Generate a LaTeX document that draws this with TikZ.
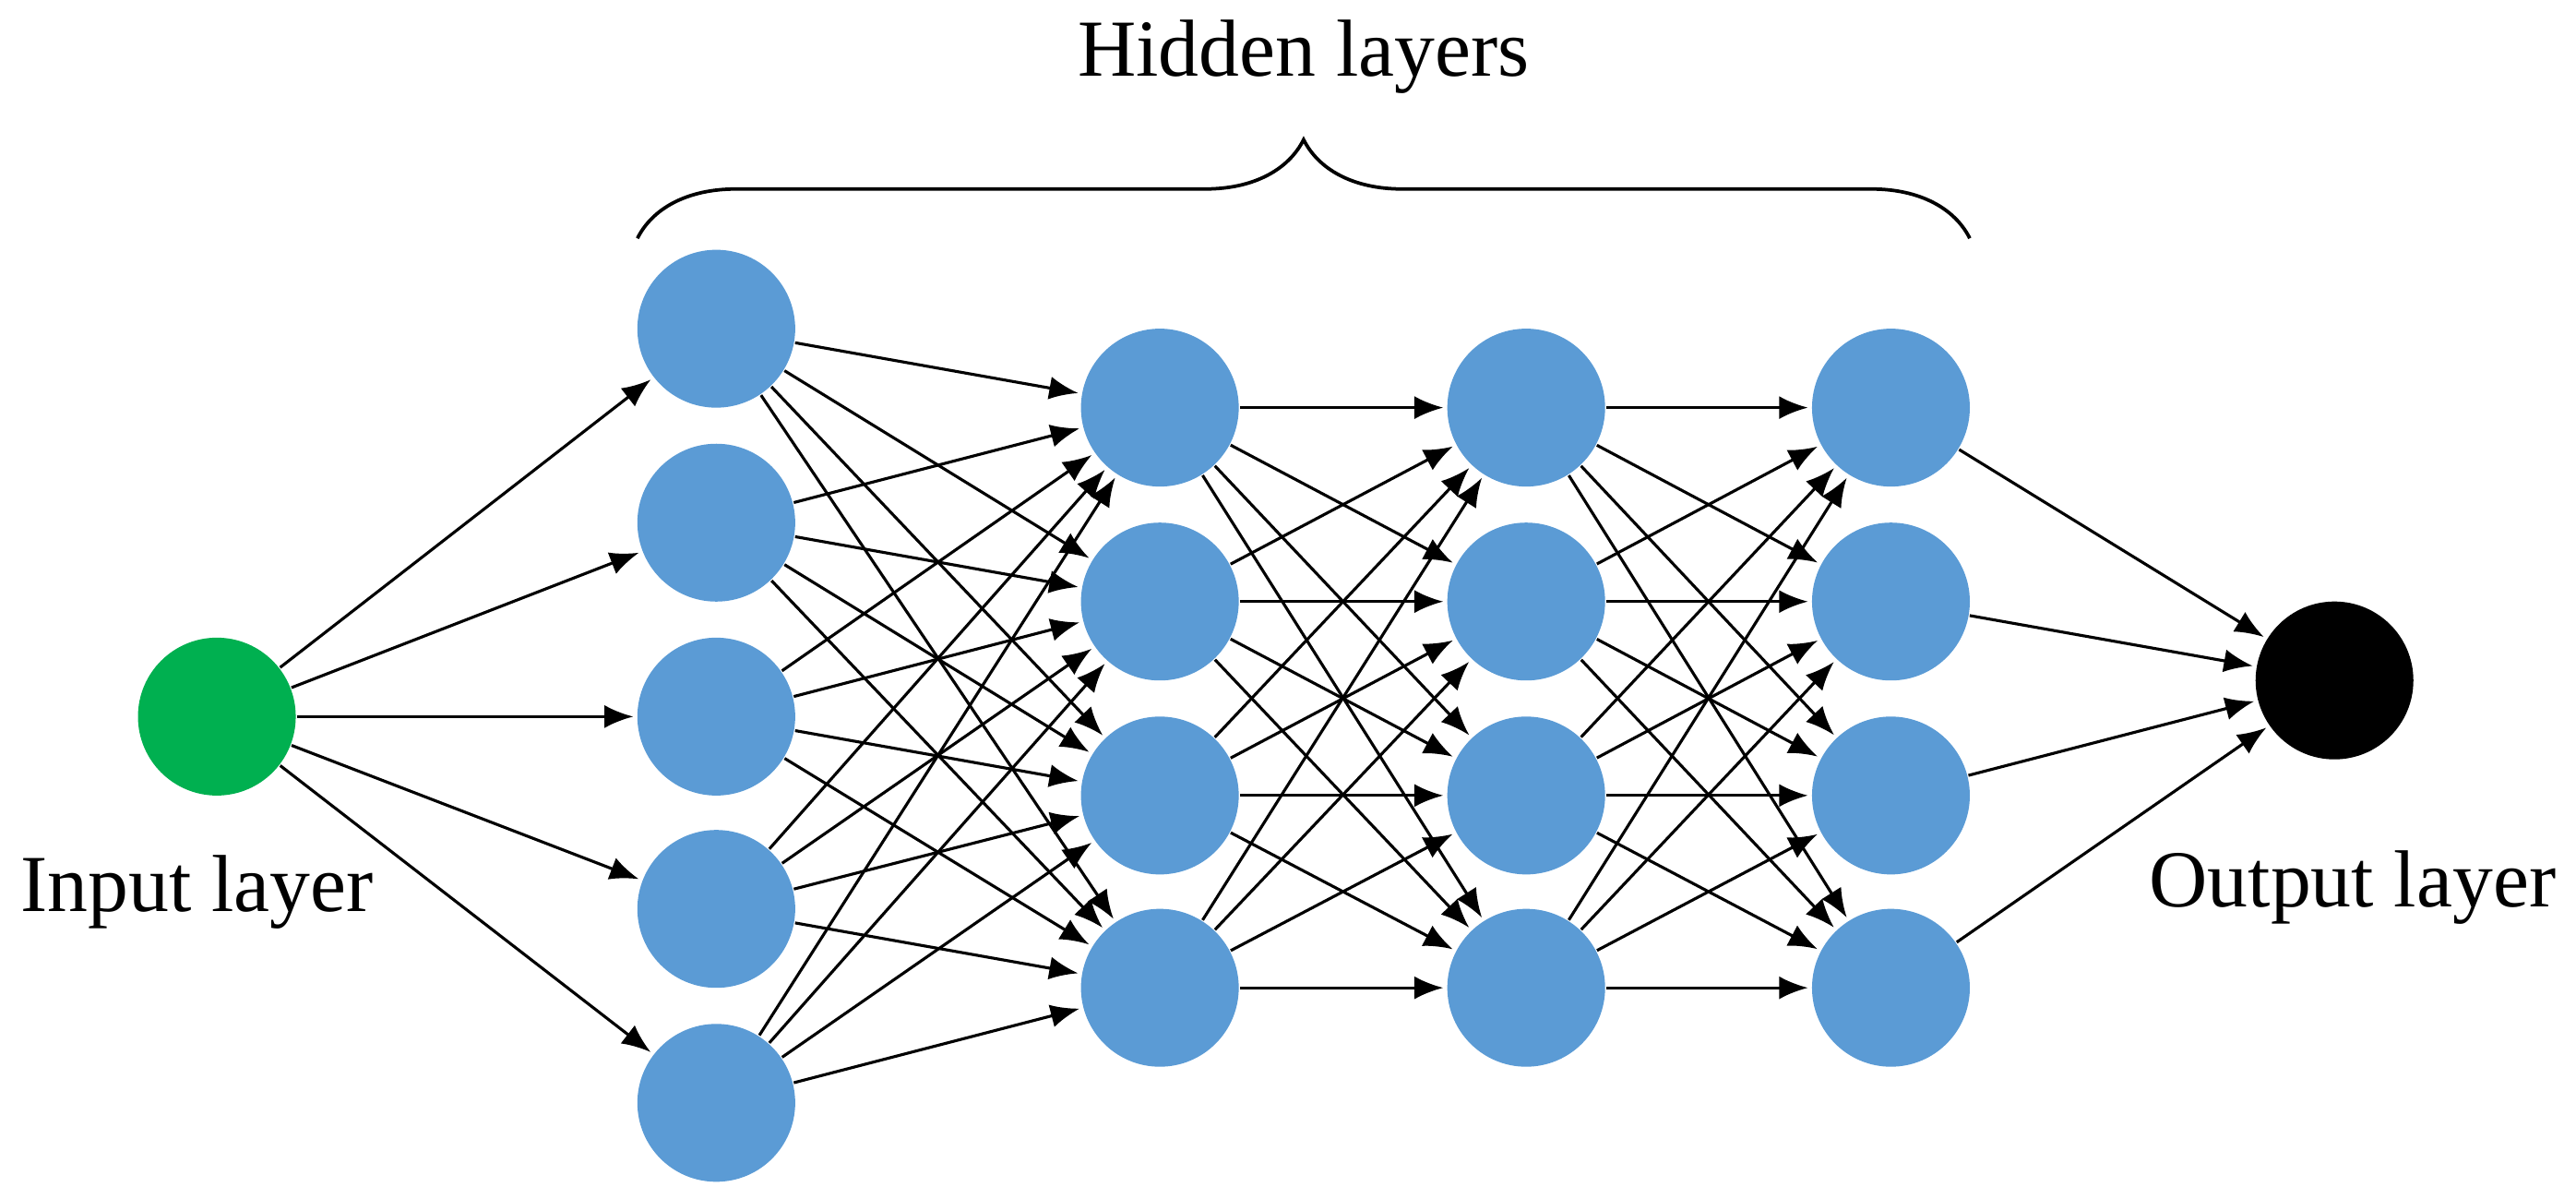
\documentclass[tikz,border=0pt]{standalone}
\usepackage{fontspec}
\setmainfont{Liberation Serif}
\usetikzlibrary{arrows.meta,decorations.pathreplacing}
\begin{document}
\begin{tikzpicture}[x=0.01cm,y=-0.01cm,
  neuron/.style={circle,minimum size=0.96cm,inner sep=0pt,fill=hid},
  edge/.style={-{Latex[length=5pt,width=4pt]},line width=0.5pt,shorten >=0.5pt},
  lab/.style={font=\fontsize{14}{16}\selectfont}]
\definecolor{hid}{HTML}{5B9BD5}
\definecolor{inp}{HTML}{00B050}
\useasboundingbox (0,0) rectangle (1568,729);
\node[neuron,fill=inp] (in) at (132,436) {};
\node[neuron,fill=black] (out) at (1421,414) {};
\foreach \i/\y in {1/200,2/318,3/436,4/553,5/671} \node[neuron] (a\i) at (436,\y) {};
\foreach \x/\n in {706/b,929/c,1151/d}
  \foreach \i/\y in {1/248,2/366,3/484,4/601} \node[neuron] (\n\i) at (\x,\y) {};
\foreach \i in {1,...,5} \draw[edge] (in) -- (a\i);
\foreach \i in {1,...,5} \foreach \j in {1,...,4} \draw[edge] (a\i) -- (b\j);
\foreach \i in {1,...,4} \foreach \j in {1,...,4} {\draw[edge] (b\i) -- (c\j); \draw[edge] (c\i) -- (d\j);}
\foreach \i in {1,...,4} \draw[edge] (d\i) -- (out);
\coordinate (bl) at (388,145); \coordinate (br) at (1199,145);
\draw[line width=0.6pt,decorate,decoration={brace,amplitude=0.6cm}] (bl) -- (br) node[midway,above=0.75cm,lab] (hl) {Hidden layers};
\node[lab] (il) at (120,543) {Input layer};
\node[lab] (ol) at (1432,540) {Output layer};
\end{tikzpicture}
\end{document}
